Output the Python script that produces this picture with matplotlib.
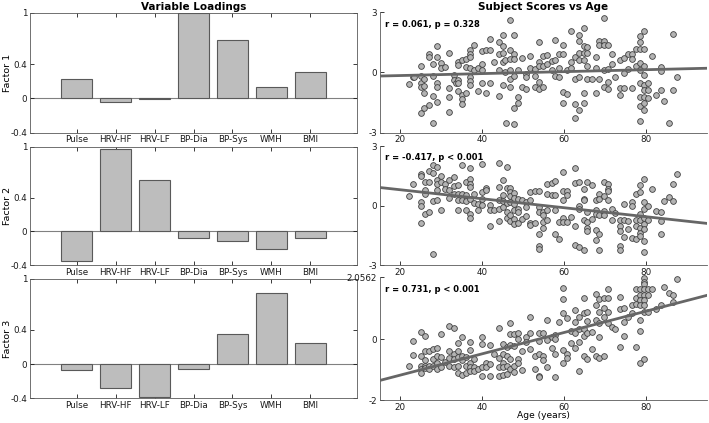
import numpy as np
import matplotlib
matplotlib.use('Agg')
from matplotlib import pyplot as plt

plt.rcParams['font.family'] = 'DejaVu Sans'

variables = ['Pulse', 'HRV-HF', 'HRV-LF', 'BP-Dia', 'BP-Sys', 'WMH', 'BMI']
load_f1 = [0.225, -0.047, -0.005, 1.0, 0.684, 0.135, 0.307]
load_f2 = [-0.347, 0.969, 0.603, -0.075, -0.115, -0.209, -0.079]
load_f3 = [-0.066, -0.28, -0.386, -0.063, 0.354, 0.837, 0.249]

stats_text = ['r = 0.061, p = 0.328', 'r = -0.417, p < 0.001', 'r = 0.731, p < 0.001']

# (age, score)
pts_f1 = np.array([
    (22, -0.58), (23, -0.23), (23.2, -0.2), (25, 0.33), (25, -0.15), (25, -0.53), (25, -0.7), (25, -2.03),
    (25.8, -0.33), (25.8, -0.66), (25.8, -1.0), (25.8, -1.78), (27, 0.93), (27, 0.76), (27, -1.6),
    (28, 0.43), (28, -0.17), (28, -2.5), (28, -1.15), (29, 1.3), (29, 0.76), (29, -0.5), (29, -0.73),
    (29, -1.45), (30, 0.47), (30, 0.22), (30.8, 0.27), (32, 0.96), (32, -0.78), (32, -1.23), (32, -1.98),
    (33, -0.12), (33, -0.37), (33.5, -0.5), (34, 0.5), (34, 0.37), (34, -0.37), (34, -0.53), (34, -0.9),
    (35, 0.6), (35, -1.11), (35, -1.3), (35, -1.58), (36, 0.66), (36, 0.27), (36, -1.0),
    (37, 1.1), (37, 0.93), (37, 0.76), (37, 0.22), (37, -0.23), (37, -0.4), (37, -0.61), (38, 1.38), (38, 0.1),
    (39, 0.22), (39, -0.9), (40, 1.05), (40, 0.43), (40, 0.13), (40, -0.5), (41, 1.1), (41, -1.0),
    (42, 1.66), (42, 1.1), (42, -0.5), (43, 0.53), (44, 1.5), (44, 0.93), (44, 0.1), (44, -1.16),
    (45, 1.88), (45, 1.3), (45, 0.96), (45, 0.53), (45, -0.61), (45.7, 0.63), (45.7, 0.03), (45.8, -2.52),
    (46.8, 2.6), (46.8, 1.1), (46.8, 0.66), (46.8, 0.13), (46.8, -0.3), (46.8, -0.73),
    (47.8, 1.88), (47.8, 0.93), (47.8, 0.66), (47.8, -0.17), (47.8, -1.78), (47.8, -2.56),
    (48.8, 0.1), (48.8, -1.23), (48.8, -1.53), (49.8, 0.71), (49.8, -0.73), (50.7, -0.07), (50.7, -0.83),
    (50.7, -0.23), (51.8, 0.8), (51.8, 0.22), (52.8, -0.73), (52.8, 0.17), (52.8, -0.17),
    (53.8, 1.5), (53.8, 0.5), (53.8, 0.33), (53.8, -0.45), (53.8, -0.83), (54.9, 0.83), (54.9, 0.33),
    (54.9, -0.7), (55.8, 0.88), (55.8, 0.43), (57, 0.55), (57, 0.1), (57.9, 1.63), (57.9, 0.63), (57.9, -0.17),
    (58.8, 0.93), (58.8, 0.22), (58.8, -0.23), (59.8, 1.38), (59.8, 0.93), (59.8, -0.95), (59.8, -1.5),
    (60.8, 0.13), (60.8, -1.06), (61.8, 2.09), (61.8, 0.5), (61.8, 0.22), (62.7, 0.76), (62.7, -0.33),
    (62.7, -1.56), (62.7, -2.28), (63.7, 1.88), (63.7, 1.55), (63.7, 0.96), (63.7, 0.63), (63.7, -0.23),
    (63.7, -1.86), (64.8, 2.2), (64.8, 1.3), (64.8, 0.96), (64.8, 0.63), (64.8, -1.0), (64.8, -1.53),
    (65.7, 1.26), (65.7, 0.96), (65.7, 0.33), (65.7, -0.33), (66.8, -0.33), (67.8, 0.76), (67.8, 0.22),
    (67.8, -1.03), (68.7, 1.55), (68.7, 1.38), (68.7, -0.33), (69.7, 2.7), (69.7, 1.55), (69.7, 1.38),
    (69.7, 0.1), (69.7, -0.73), (70.7, 1.38), (70.7, 0.17), (70.7, -0.45), (70.7, -0.83), (71.7, 0.93),
    (71.7, 0.43), (72.6, -0.23), (73.8, 0.63), (73.8, -0.78), (73.8, -1.11), (74.7, 0.71), (74.7, -0.03),
    (74.7, -0.78), (75.7, 0.93), (75.7, 0.17), (76.7, 0.93), (76.7, 0.66), (76.7, -0.78), (77.7, 1.16),
    (77.7, 0.33), (78.6, 1.83), (78.6, 1.5), (78.6, 1.16), (78.6, 0.47), (78.6, 0.13), (78.6, -0.5),
    (78.6, -1.2), (78.6, -1.66), (78.6, -2.4), (79.6, 2.09), (79.6, 1.16), (79.6, 0.3), (79.6, -0.12),
    (79.6, -0.61), (79.6, -0.86), (79.6, -1.2), (79.6, -1.53), (79.6, -1.86), (80.6, -0.53), (80.6, -0.86),
    (80.6, -1.28), (81.6, 0.8), (82.6, -1.11), (83.7, 0.27), (83.7, 0.05), (83.7, -0.86), (84.6, -1.4),
    (85.6, -2.52), (86.7, 1.93), (86.7, -0.86), (87.6, -0.23),
])

pts_f2 = np.array([
    (22, 0.47), (23, 1.08), (25, 1.61), (25, 1.48), (25, 0.18), (25, 0.0), (25, -0.87),
    (26, 0.57), (26, 0.77), (26, 1.18), (26, -0.44), (27, 1.75), (27, 1.18), (27, -0.32),
    (28, 2.03), (28, 1.66), (28, 0.24), (28, -2.45), (29, 1.92), (29, 1.31), (29, 1.08), (29, 0.77), (29, 0.3),
    (30, 1.48), (30, 1.19), (30, -0.2), (31, 1.08), (31, 0.86), (32, 1.28), (32, 0.77), (32, 0.4),
    (33, 1.45), (33, 0.97), (33, 0.6), (34, 1.03), (34, 0.57), (34, 0.27), (34, -0.24),
    (35, 2.03), (35, 0.6), (35, 0.3), (36, 1.19), (36, 0.52), (36, 0.24), (36, -0.24),
    (37, 1.87), (37, 1.36), (37, 1.08), (37, 0.94), (37, 0.35), (37, -0.44), (37, -0.6),
    (38, 0.6), (38, 0.13), (39, 0.07), (39, -0.24), (40, 2.08), (40, 0.69), (40, 0.35), (40, 0.02),
    (41, 0.91), (41, 0.77), (42, 0.02), (42, -0.2), (42, -1.04), (43, -0.24),
    (44, 2.15), (44, 0.94), (44, 0.3), (44, -0.15), (44, -0.77), (45, 1.31), (45, 0.52), (45, 0.24), (45, -0.07),
    (46, 1.95), (46, 0.91), (46, 0.13), (46, -0.32), (46, -0.6),
    (46.8, 0.91), (46.8, 0.69), (46.8, 0.47), (46.8, 0.18), (46.8, -0.49), (46.8, -0.77),
    (47.8, 0.64), (47.8, 0.4), (47.8, 0.07), (47.8, -0.24), (47.8, -0.66), (47.8, -0.94),
    (48.8, 0.35), (48.8, -0.15), (48.8, -0.32), (48.8, -0.87), (49.8, 0.3), (49.8, -0.66),
    (50.7, 0.18), (50.7, -0.07), (50.7, -0.54), (51.8, 0.69), (51.8, 0.3), (51.8, -0.87), (51.8, -0.99),
    (52.8, 0.74), (52.8, -0.87), (53.8, 0.74), (53.8, -0.07), (53.8, -0.32), (53.8, -1.45), (53.8, -2.05),
    (53.8, -2.17), (54.9, -0.32), (54.9, -0.82), (54.9, -1.11), (54.9, -0.49), (55.8, 1.08), (55.8, 0.57),
    (55.8, -0.2), (55.8, -0.74), (57, 1.14), (57, 0.52), (57.9, 1.24), (57.9, 0.52), (57.9, -0.2),
    (57.9, -1.45), (58.8, -1.66), (58.8, -0.82), (59.8, 1.7), (59.8, 0.74), (59.8, 0.3), (59.8, -0.6),
    (59.8, -0.82), (60.8, 0.74), (60.8, 0.52), (60.8, -0.82), (61.8, -0.57), (62.7, 1.88), (62.7, 1.14),
    (62.7, -1.04), (62.7, -2.0), (63.7, 1.19), (63.7, -0.03), (63.7, -0.15), (63.7, -2.08),
    (64.8, 0.86), (64.8, 0.35), (64.8, 0.3), (64.8, -0.7), (64.8, -2.22), (65.7, 1.19), (65.7, -0.32),
    (65.7, -0.82), (65.7, -1.11), (65.7, -1.28), (66.8, 1.03), (66.8, -0.66), (67.8, 0.27), (67.8, -0.2),
    (67.8, -0.44), (67.8, -1.71), (67.8, -1.24), (68.7, 0.57), (68.7, 0.35), (68.7, -0.49), (68.7, -2.22),
    (68.7, -1.45), (69.7, 1.19), (69.7, 0.47), (69.7, -0.27), (69.7, -0.49), (70.7, 1.08), (70.7, 0.86),
    (70.7, 0.74), (70.7, 0.3), (71.7, -0.15), (71.7, -0.74), (72.6, -0.37), (73.8, -0.7), (73.8, -1.04),
    (73.8, -1.28), (73.8, -2.05), (73.8, -2.25), (74.7, 0.07), (74.7, -0.74), (74.7, -1.58),
    (75.7, -0.77), (75.7, -1.16), (76.7, 0.18), (76.7, -0.03), (76.7, -1.61), (77.7, 0.6), (77.7, -0.7),
    (77.7, -1.04), (77.7, -1.66), (78.6, 1.03), (78.6, 0.69), (78.6, -0.44), (78.6, -0.74), (78.6, -1.11),
    (78.6, -1.38), (78.6, -1.55), (79.6, 1.36), (79.6, 0.18), (79.6, -0.15), (79.6, -0.6), (79.6, -0.94),
    (79.6, -1.16), (79.6, -1.78), (79.6, -2.34), (80.6, -0.03), (80.6, -0.7), (81.6, 0.86), (82.6, -0.27),
    (83.7, -0.32), (83.7, -0.77), (83.7, -1.45), (84.6, 0.24), (85.6, 0.44), (86.7, 0.24), (86.7, 1.08),
    (87.6, 1.58),
])

pts_f3 = np.array([
    (22, -0.88), (23, -0.04), (23, -0.53), (25, 0.25), (25, -0.55), (25, -0.88), (25, -0.99), (25, -1.1),
    (26, 0.11), (26, -0.37), (26, -0.68), (26, -0.88), (26, -0.96), (27, -0.37), (27, -0.88), (27, -0.99),
    (28, -0.33), (28, -0.66), (28, -0.88), (29, -0.3), (29, -0.55), (29, -0.77), (29, -0.99),
    (30, 0.18), (30, -0.59), (30, -0.92), (31, -0.74), (32, 0.44), (32, -0.37), (32, -0.63), (32, -0.88),
    (33, 0.36), (33, -0.48), (33, -0.66), (33, -0.92), (34, -0.11), (34, -0.37), (34, -0.59), (34, -0.88),
    (34, -1.1), (35, 0.07), (35, -0.55), (35, -0.68), (35, -1.18), (36, -0.59), (36, -0.88), (36, -1.1),
    (37, -0.08), (37, -0.35), (37, -0.77), (37, -0.92), (37, -1.03), (38, -0.66), (38, -0.92), (38, -1.03),
    (39, -0.99), (40, 0.07), (40, -0.15), (40, -0.92), (40, -1.21), (41, -0.79), (41, -0.92),
    (42, -0.19), (42, -0.81), (42, -1.21), (43, -0.48), (44, 0.36), (44, -0.63), (44, -0.92), (44, -1.21),
    (45, -0.15), (45, -0.48), (45, -0.77), (45, -0.92), (45, -1.18), (46, -0.26), (46, -0.55), (46, -0.88),
    (46, -1.14), (46.8, 0.53), (46.8, 0.18), (46.8, -0.19), (46.8, -0.66), (46.8, -0.99),
    (47.8, 0.18), (47.8, -0.22), (47.8, -0.88), (47.8, -1.07), (48.8, 0.22), (48.8, 0.0), (48.8, -0.66),
    (48.8, -0.77), (49.8, -1.01), (49.8, -0.37), (50.7, 0.09), (50.7, -0.08), (51.8, 0.73), (51.8, 0.22),
    (51.8, -0.33), (52.8, -0.99), (52.8, -0.55), (53.8, 0.22), (53.8, -0.04), (53.8, -0.48), (53.8, -1.21),
    (53.8, -1.25), (54.9, 0.22), (54.9, -0.55), (54.9, -0.68), (55.8, 0.64), (55.8, -0.02), (55.8, -0.92),
    (57, 0.07), (57, -0.3), (57.9, 0.14), (57.9, 0.0), (57.9, -0.48), (57.9, -1.23), (58.8, 0.58),
    (59.8, 1.68), (59.8, 1.32), (59.8, 0.86), (59.8, -0.35), (59.8, -0.77), (60.8, 0.69), (60.8, -0.48),
    (60.8, -0.63), (61.8, 0.29), (61.8, -0.11), (62.7, 0.97), (62.7, 0.58), (62.7, 0.22), (62.7, -0.3),
    (63.7, 0.73), (63.7, 0.33), (63.7, -0.08), (63.7, -1.03), (64.8, 1.38), (64.8, 0.86), (64.8, 0.33),
    (64.8, 0.11), (64.8, -0.55), (65.7, 0.91), (65.7, 0.62), (65.7, 0.22), (65.7, -0.66), (66.8, 0.25),
    (66.8, -0.33), (67.8, 1.49), (67.8, 1.13), (67.8, 0.64), (67.8, -0.55), (68.7, 1.32), (68.7, 0.91),
    (68.7, 0.55), (68.7, 0.07), (68.7, -0.63), (69.7, 1.35), (69.7, 1.05), (69.7, 0.75), (69.7, -0.55),
    (70.7, 1.65), (70.7, 1.35), (70.7, 0.91), (70.7, 0.55), (71.7, 0.4), (72.6, 0.33), (73.8, 1.41),
    (73.8, 0.99), (73.8, -0.24), (74.7, 1.02), (74.7, 0.58), (74.7, 0.11), (75.7, 0.73), (76.7, 1.13),
    (76.7, 0.86), (77.7, 1.65), (77.7, 1.38), (77.7, 1.16), (77.7, -0.24), (78.6, 1.65), (78.6, 1.46),
    (78.6, 1.3), (78.6, 1.13), (78.6, 0.64), (78.6, 0.29), (78.6, -0.77), (79.6, 2.01), (79.6, 1.9),
    (79.6, 1.82), (79.6, 1.65), (79.6, 1.46), (79.6, 1.3), (79.6, 1.13), (79.6, 0.91), (79.6, -0.66),
    (80.6, 1.65), (80.6, 1.46), (80.6, 0.91), (81.6, 1.65), (82.6, 0.99), (83.7, 1.13), (84.6, 1.71),
    (85.6, 1.54), (86.7, 1.46), (86.7, 1.24), (87.6, 2.0),
])

loadings = [load_f1, load_f2, load_f3]
points = [pts_f1, pts_f2, pts_f3]
ylims = [(-3, 3), (-3, 3), (-2, 2.0562)]
yticks = [[-3, 0, 3], [-3, 0, 3], [-2, 0, 2.0562]]
ytlabels = [['-3', '0', '3'], ['-3', '0', '3'], ['-2', '0', '2.0562']]

W, H = 709, 423
fig = plt.figure(figsize=(W / 100, H / 100), dpi=100)

# axes boxes in pixels: (left, top, right, bottom)
left_boxes = [(30, 12.7, 357, 132.7), (30, 146.7, 357, 265.3), (30, 278.6, 357, 398.3)]
right_boxes = [(380, 12.3, 707, 132.7), (380, 146, 707, 265.3), (380, 277, 707, 400)]

def px_axes(b):
    l, t, r, bt = b
    return fig.add_axes([l / W, 1 - bt / H, (r - l) / W, (bt - t) / H])

axcol = '0.35'
fs = 6.3

for i in range(3):
    ax = px_axes(left_boxes[i])
    xpos = np.arange(1, 8)
    ax.bar(xpos, loadings[i], width=0.8, color='#bdbdbd', edgecolor='0.35', linewidth=0.8, zorder=2)
    ax.axhline(0, color='0.5', lw=0.8, zorder=1)
    ax.set_xlim(-0.2, 8.2)
    ax.set_ylim(-0.4, 1)
    ax.set_yticks([-0.4, 0, 0.4, 1])
    ax.set_yticklabels(['-0.4', '0', '0.4', '1'])
    ax.set_xticks(xpos)
    ax.set_xticklabels(variables)
    ax.tick_params(direction='in', length=3, labelsize=fs, colors='0.1', top=True, right=True,
                   width=0.6, pad=2)
    for s in ax.spines.values():
        s.set_color(axcol)
        s.set_linewidth(0.6)
    ax.set_ylabel('Factor %d' % (i + 1), fontsize=6.8)
    ax.yaxis.set_label_coords(-18 / 327, 0.5)
    if i == 0:
        ax.set_title('Variable Loadings', fontsize=7.5, fontweight='bold', pad=2)

    ax2 = px_axes(right_boxes[i])
    age, score = points[i][:, 0], points[i][:, 1]
    ax2.scatter(age, score, s=17, c='#b3b3b3', edgecolors='0.25', linewidths=0.6, zorder=2, clip_on=False)
    k, b = np.polyfit(age, score, 1)
    xx = np.array([15, 95])
    ax2.plot(xx, k * xx + b, color='0.4', lw=2, zorder=3)
    ax2.set_xlim(15, 95)
    ax2.set_ylim(*ylims[i])
    ax2.set_xticks([20, 40, 60, 80])
    ax2.set_yticks(yticks[i])
    ax2.set_yticklabels(ytlabels[i])
    ax2.tick_params(direction='in', length=3, labelsize=fs, colors='0.1', width=0.6, pad=2)
    for s in ['top', 'right']:
        ax2.spines[s].set_visible(False)
    for s in ['left', 'bottom']:
        ax2.spines[s].set_color(axcol)
        ax2.spines[s].set_linewidth(0.6)
    ax2.text(0.015, 0.9, stats_text[i], transform=ax2.transAxes, fontsize=6, fontweight='bold',
             va='center', ha='left')
    if i == 0:
        ax2.set_title('Subject Scores vs Age', fontsize=7.5, fontweight='bold', pad=2)
    if i == 2:
        ax2.set_xlabel('Age (years)', fontsize=6.6)
        ax2.xaxis.set_label_coords(0.5, -11 / 123)

fig.savefig('out.png', dpi=100)
